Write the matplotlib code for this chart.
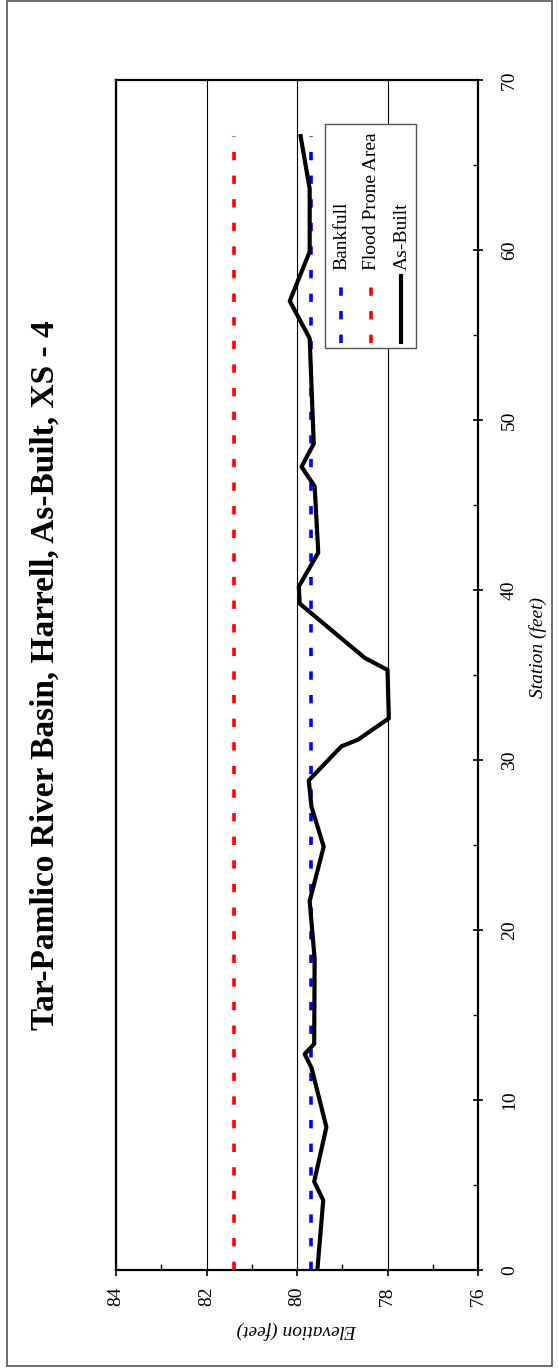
import numpy as np
import matplotlib as mpl
mpl.use('Agg')
import matplotlib.pyplot as plt
from matplotlib.patches import Rectangle
from matplotlib.lines import Line2D
from matplotlib.ticker import MultipleLocator

mpl.rcParams['font.family'] = ['Liberation Serif', 'DejaVu Serif']
mpl.rcParams['lines.scale_dashes'] = False

title = 'Tar-Pamlico River Basin, Harrell, As-Built, XS - 4'
series_names = ['Bankfull', 'Flood Prone Area', 'As-Built']

# as-built survey: station (ft) and elevation (ft)
station = [0.0, 4.1, 5.2, 8.4, 11.9, 12.7, 13.3, 18.3, 21.7, 24.9, 27.25, 28.8,
           30.8, 31.2, 32.45, 35.3, 36.0, 39.2, 40.2, 42.2, 46.1, 47.25, 48.6,
           54.8, 57.0, 59.9, 63.6, 66.7]
elevation = [79.55, 79.42, 79.62, 79.35, 79.68, 79.83, 79.62, 79.61, 79.72, 79.41,
             79.68, 79.74, 79.02, 78.65, 77.97, 78.0, 78.5, 79.94, 79.96, 79.53,
             79.61, 79.90, 79.63, 79.72, 80.16, 79.72, 79.72, 79.92]
bankfull = 79.7
flood_prone = 81.4

elev_ticks = [84, 82, 80, 78, 76]
station_ticks = [0, 10, 20, 30, 40, 50, 60, 70]

W, H = 558, 1371
def fx(x): return x / W
def fy(y): return 1 - y / H

fig = plt.figure(figsize=(W / 100, H / 100), dpi=100)
ax = fig.add_axes([fx(116), fy(1270), (478 - 116) / W, (1270 - 80) / H])

dash = (0, (6, 11))
ax.plot([bankfull, bankfull], [station[0], station[-1]], color='#0000ff', lw=2.6,
        linestyle=dash, dash_capstyle='butt', zorder=3)
ax.plot([flood_prone, flood_prone], [station[0], station[-1]], color='#ff0000', lw=2.6,
        linestyle=dash, dash_capstyle='butt', zorder=3)
ax.plot(elevation, station, color='black', lw=3, zorder=4)

ax.set_xlim(84, 76)
ax.set_ylim(0, 70)
ax.set_xticks(elev_ticks)
ax.set_yticks(station_ticks)
ax.xaxis.set_minor_locator(MultipleLocator(1))
ax.yaxis.set_minor_locator(MultipleLocator(5))
ax.grid(True, axis='x', which='major', color='black', lw=0.8)
ax.yaxis.tick_right()

for s in ax.spines.values():
	s.set_linewidth(1.6)

ax.tick_params(axis='x', which='major', direction='out', length=4, width=1.2,
	labelsize=14, labelrotation=90, pad=8)
ax.tick_params(axis='x', which='minor', direction='in', length=4, width=1.0)
ax.tick_params(axis='y', which='major', direction='inout', length=7, width=1.2,
	labelsize=14, labelrotation=90, pad=13)
ax.tick_params(axis='y', which='minor', direction='in', length=3.5, width=1.0)
for lbl in ax.get_yticklabels():
	lbl.set_verticalalignment('center')
	lbl.set_horizontalalignment('left')

ax.set_xlabel('Elevation (feet)', fontsize=14, style='italic', rotation=180, va='center')
ax.xaxis.set_label_coords(0.5, -(1330 - 1270) / 1190)
ax.yaxis.set_label_position('right')
ax.set_ylabel('Station (feet)', fontsize=14, style='italic', rotation=90, va='center', ha='center')
ax.yaxis.set_label_coords((538 - 116) / 362, (1270 - 648) / 1190)

fig.text(fx(45), fy(675), title, rotation=90, fontsize=24, fontweight='bold',
	ha='center', va='center')

# legend drawn by hand, rotated with the chart
fig.add_artist(Rectangle((fx(325), fy(348)), (416 - 325) / W, (348 - 124) / H,
	transform=fig.transFigure, facecolor='white', edgecolor='#555555', lw=1.0, zorder=5))
leg_x = [341, 371, 401]
leg_style = [dict(color='#0000ff', lw=2.6, linestyle=dash, dash_capstyle='butt'),
	dict(color='#ff0000', lw=2.6, linestyle=dash, dash_capstyle='butt'),
	dict(color='black', lw=3)]
for i, name in enumerate(series_names):
	x = leg_x[i]
	fig.add_artist(Line2D([fx(x), fx(x)], [fy(343), fy(287)] if i < 2 else [fy(342), fy(276)],
		transform=fig.transFigure, zorder=6, **leg_style[i]))
	fig.text(fx(x + 1), fy(270), name, rotation=90, fontsize=14, ha='center', va='bottom', zorder=6)

# outer chart border
fig.add_artist(Rectangle((fx(7), fy(1366)), (552 - 7) / W, (1366 - 1) / H,
	transform=fig.transFigure, facecolor='none', edgecolor='#555555', lw=1.2, zorder=7))

fig.savefig('out.png', dpi=100)
